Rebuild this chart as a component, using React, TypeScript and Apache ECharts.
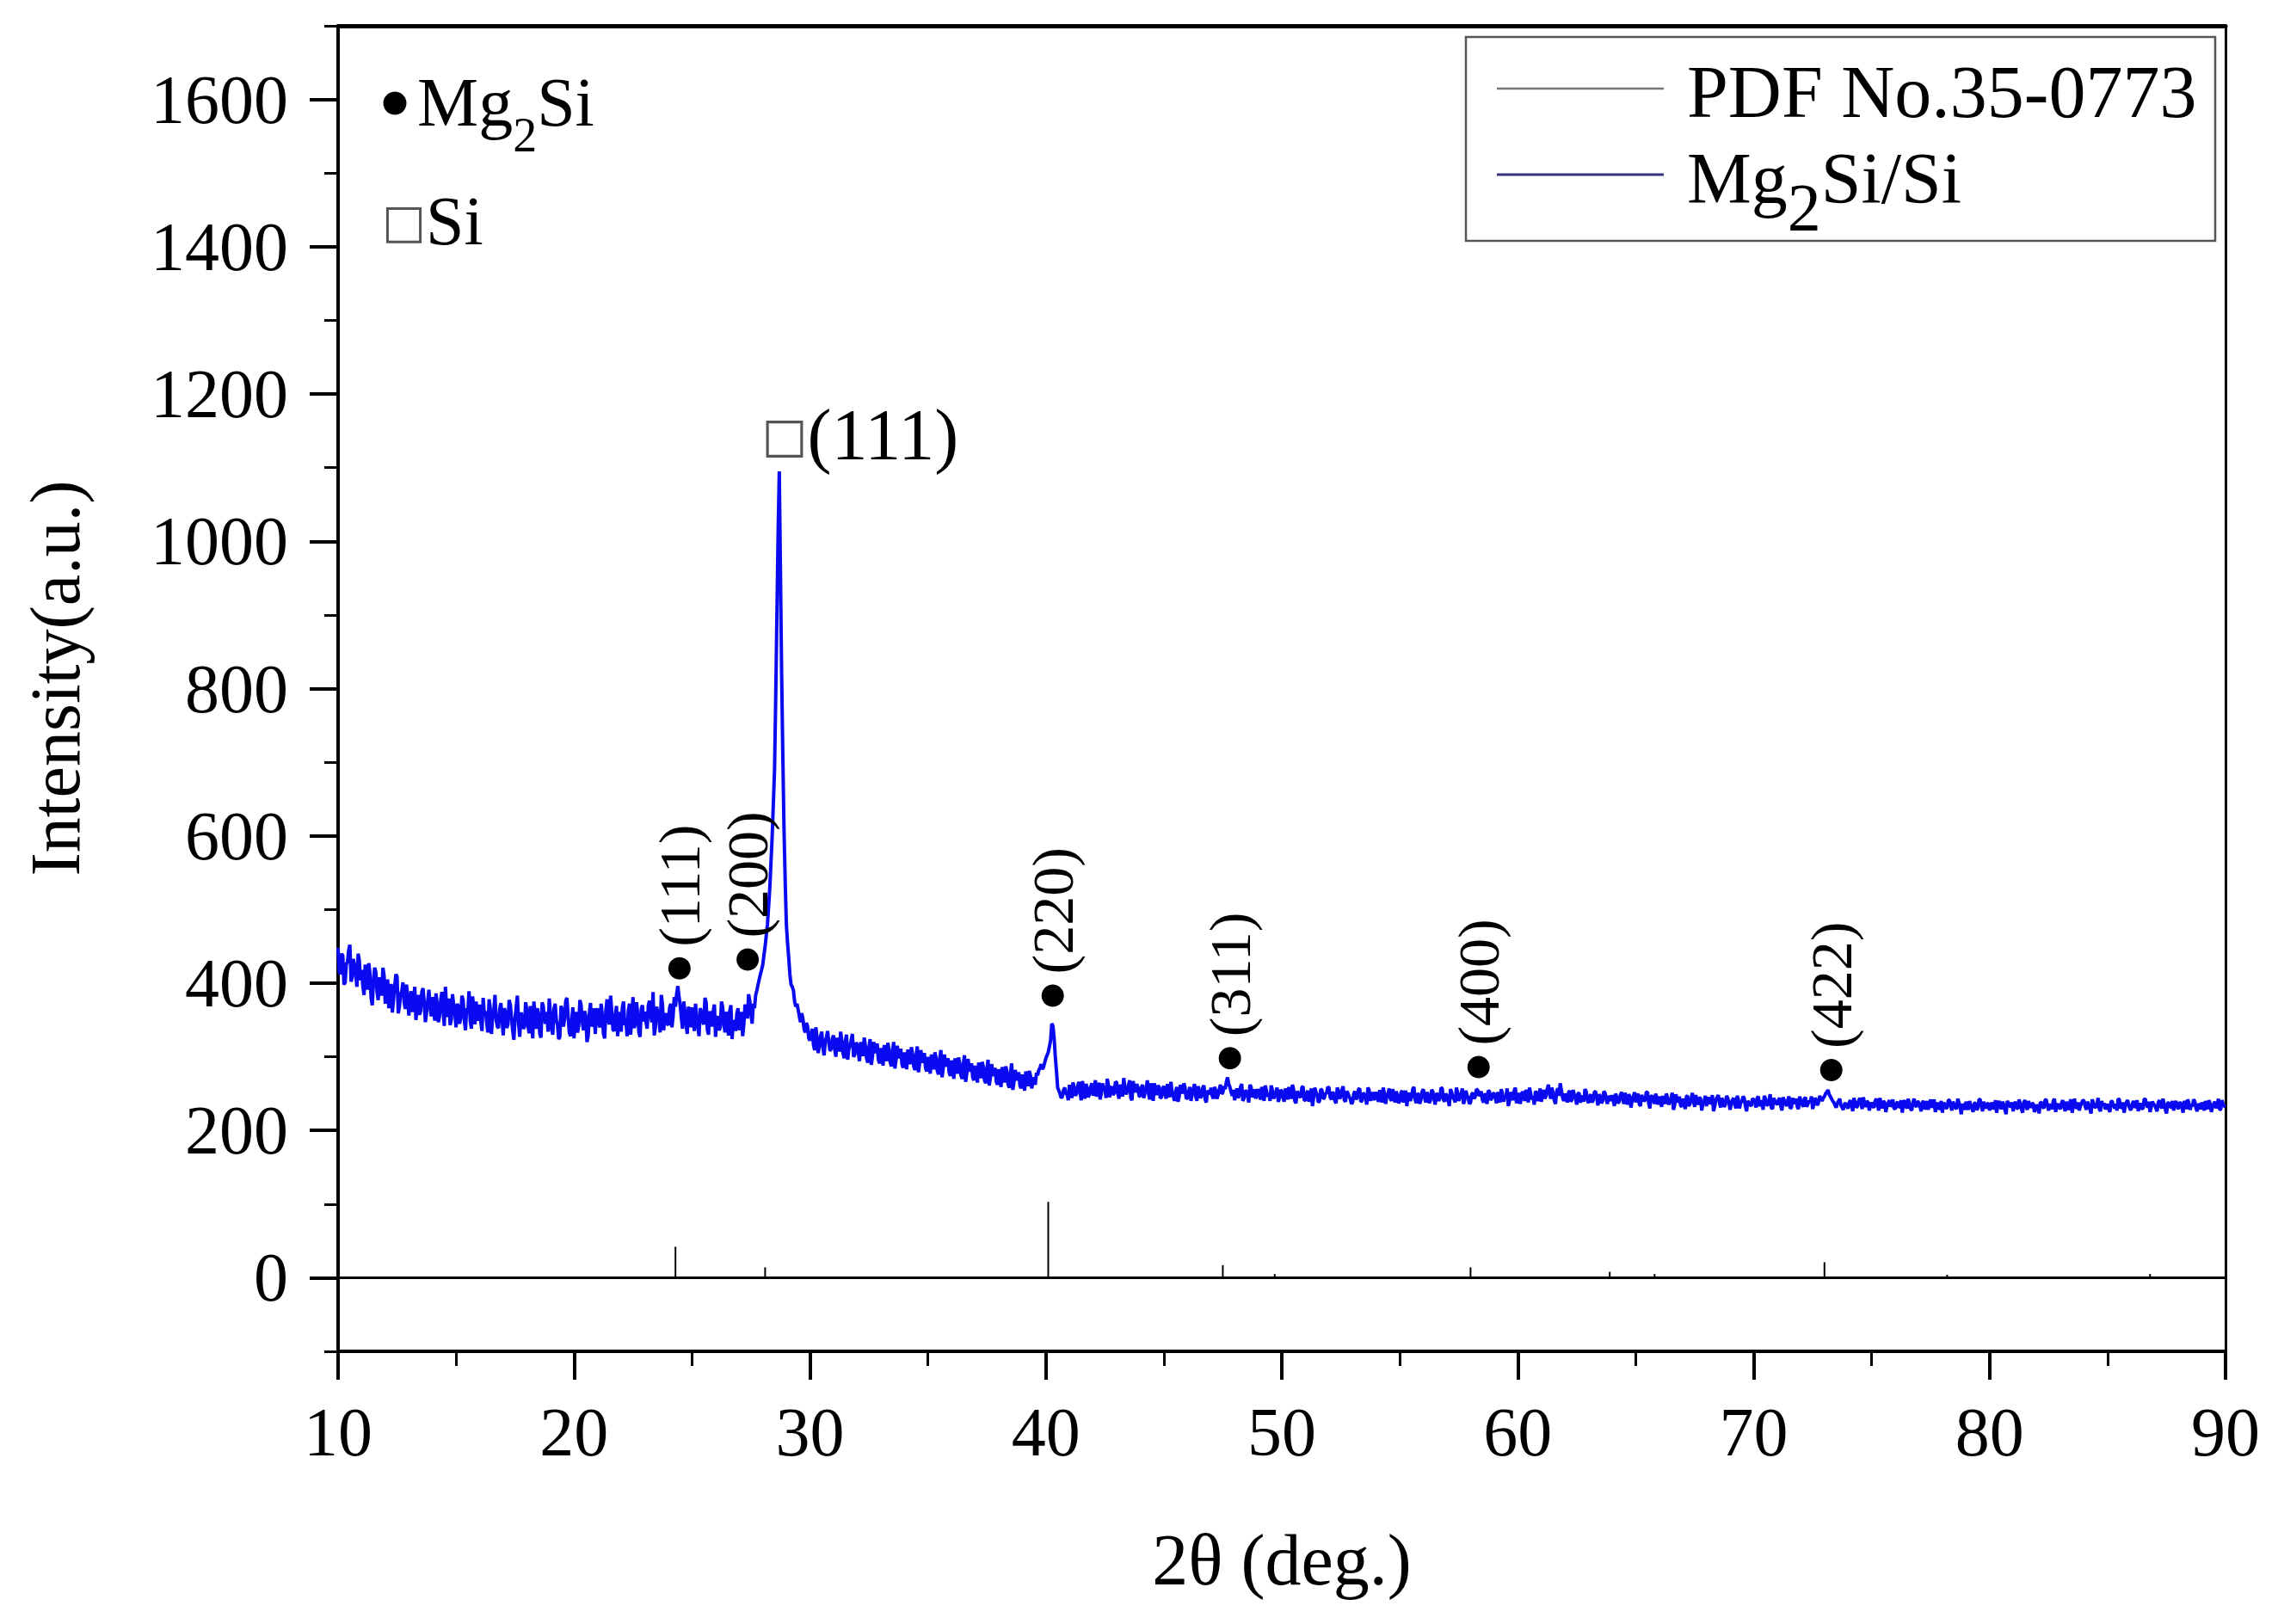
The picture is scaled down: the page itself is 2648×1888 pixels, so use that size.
import React, { useEffect, useRef } from "react";
import * as echarts from "echarts";

// ---- scan: readings at 2θ = 10.0, 10.1, ... 90.0 ----
const scanStart = 10;
const scanStep = 0.1;
const intensity = [
  448, 412, 437, 401, 429, 452, 408, 423, 395, 431,
  418, 384, 409, 427, 380, 402, 415, 377, 398, 421,
  372, 405, 381, 360, 396, 409, 368, 389, 374, 398,
  356, 389, 371, 350, 384, 362, 393, 347, 376, 368,
  381, 349, 372, 355, 388, 342, 366, 379, 351, 370,
  340, 368, 353, 377, 336, 361, 349, 382, 344, 358,
  371, 335, 357, 346, 378, 331, 362, 350, 339, 373,
  329, 360, 344, 371, 336, 352, 383, 327, 355, 341,
  364, 332, 350, 375, 338, 357, 326, 368, 345, 334,
  359, 330, 372, 343, 327, 364, 351, 380, 333, 348,
  325, 361, 342, 370, 336, 355, 328, 373, 347, 331,
  366, 340, 357, 325, 378, 344, 362, 335, 369, 352,
  334, 375, 349, 362, 330, 381, 345, 358, 327, 370,
  361, 338, 376, 347, 329, 368, 352, 384, 336, 359,
  343, 372, 355, 368, 396, 370, 338, 362, 331, 356,
  367, 335, 352, 328, 361, 344, 374, 330, 349, 362,
  327, 355, 340, 368, 333, 350, 362, 324, 347, 358,
  336, 361, 345, 366, 385, 358, 372, 384, 398, 412,
  425, 450, 480, 530, 600, 690, 900, 1095, 820, 610,
  480, 435, 398, 390, 368, 364, 347, 352, 333, 341,
  322, 338, 309, 326, 315, 334, 302, 327, 319, 311,
  329, 300, 318, 334, 305, 321, 296, 315, 331, 303,
  317, 294, 310, 326, 298, 313, 289, 320, 305, 296,
  312, 288, 305, 319, 293, 308, 284, 315, 298, 290,
  306, 283, 299, 313, 287, 302, 279, 309, 292, 285,
  300, 277, 294, 306, 281, 297, 272, 303, 287, 279,
  295, 270, 286, 299, 275, 290, 266, 297, 280, 272,
  288, 265, 281, 293, 268, 284, 261, 290, 274, 266,
  283, 259, 275, 287, 262, 278, 255, 282, 268, 261,
  276, 254, 270, 281, 257, 272, 278, 282, 290, 286,
  298, 306, 322, 342, 300, 258, 250, 246, 258, 249,
  262, 244, 258, 250, 266, 241, 256, 263, 245, 259,
  247, 268, 253, 242, 264, 257, 270, 245, 260, 251,
  265, 243, 258, 271, 249, 261, 244, 267, 252, 259,
  246, 262, 251, 268, 242, 257, 264, 248, 259, 245,
  260, 243, 256, 266, 247, 253, 239, 262, 250, 258,
  244, 259, 249, 263, 240, 255, 247, 261, 238, 252,
  258, 243, 254, 248, 262, 251, 256, 272, 259, 247,
  241, 257, 248, 263, 244, 253, 238, 259, 249, 243,
  256, 242, 252, 261, 246, 240, 255, 247, 258, 244,
  253, 239, 250, 259, 243, 256, 237, 251, 245, 260,
  241, 254, 246, 233, 258, 248, 240, 255, 244, 251,
  258, 242, 250, 237, 254, 246, 260, 239, 251, 243,
  238, 253, 245, 257, 240, 249, 235, 255, 247, 241,
  252, 239, 247, 258, 236, 250, 243, 256, 238, 248,
  240, 254, 244, 233, 251, 246, 259, 237, 249, 242,
  256, 238, 248, 241, 253, 235, 250, 244, 257, 239,
  247, 233, 252, 243, 258, 240, 249, 236, 254, 245,
  238, 251, 246, 255, 249, 242, 250, 236, 253, 244,
  250, 237, 248, 256, 239, 245, 233, 252, 241, 258,
  244, 236, 253, 240, 249, 258, 242, 235, 251, 246,
  239, 255, 247, 262, 243, 250, 236, 257, 264, 245,
  250, 238, 254, 242, 248, 235, 251, 244, 239, 253,
  237, 249, 241, 253, 234, 246, 240, 251, 236, 244,
  248, 233, 245, 239, 252, 236, 243, 249, 231, 246,
  238, 250, 233, 244, 241, 252, 230, 247, 236, 243,
  246, 232, 241, 250, 235, 244, 228, 249, 238, 234,
  243, 229, 247, 236, 251, 232, 240, 245, 227, 239,
  233, 245, 238, 226, 242, 248, 231, 240, 235, 244,
  228, 241, 235, 247, 230, 239, 244, 226, 238, 233,
  242, 231, 246, 236, 228, 243, 234, 249, 229, 240,
  235, 244, 227, 240, 233, 246, 231, 238, 243, 229,
  241, 232, 245, 236, 239, 229, 244, 234, 247, 240,
  246, 252, 249, 243, 238, 231, 240, 234, 228, 237,
  230, 241, 226, 238, 233, 244, 229, 236, 240, 227,
  238, 231, 243, 227, 236, 240, 225, 237, 232, 242,
  229, 239, 233, 224, 241, 230, 236, 227, 243, 232,
  237, 226, 240, 231, 228, 242, 234, 225, 238, 230,
  224, 236, 231, 241, 227, 235, 229, 238, 222, 233,
  239, 228, 234, 225, 237, 230, 242, 226, 233, 236,
  227, 238, 231, 224, 240, 229, 235, 222, 237, 232,
  226, 239, 230, 236, 224, 241, 228, 234, 237, 225,
  235, 223, 238, 230, 242, 227, 233, 240, 225, 236,
  229, 241, 226, 234, 238, 224, 243, 231, 227, 237,
  240, 228, 235, 223, 237, 231, 244, 226, 233, 229,
  236, 225, 239, 230, 227, 242, 232, 224, 238, 234,
  228, 240, 233, 226, 237, 229, 243, 231, 225, 239,
  234, 226, 241, 230, 236, 223, 238, 232, 227, 240,
  229, 237, 224, 235, 242, 228, 233, 239, 226, 234,
  238, 227, 232, 241, 225, 236, 230, 243, 229, 235,
  232,
];

// ---- scan: readings at 2θ = 10.05, 10.15, ... 89.95 ----
const intensityMid = [
  415, 440, 398, 426, 445, 402, 433, 411, 440, 404,
  396, 425, 391, 414, 370, 421, 389, 408, 383, 410,
  391, 366, 399, 378, 412, 359, 385, 401, 365, 382,
  380, 361, 395, 369, 357, 388, 374, 360, 391, 355,
  362, 386, 347, 377, 364, 395, 354, 343, 385, 359,
  372, 345, 383, 350, 366, 389, 338, 367, 375, 349,
  347, 380, 362, 333, 366, 355, 384, 341, 365, 352,
  366, 339, 377, 353, 323, 368, 345, 360, 338, 374,
  341, 369, 325, 358, 366, 331, 374, 349, 361, 379,
  338, 365, 350, 324, 369, 341, 376, 355, 328, 367,
  352, 333, 377, 348, 362, 320, 359, 341, 366, 357,
  345, 372, 331, 363, 350, 383, 337, 356, 328, 361,
  367, 343, 328, 372, 355, 339, 374, 333, 365, 348,
  347, 370, 356, 388, 340, 361, 333, 371, 355, 345,
  366, 340, 381, 385, 382, 353, 375, 344, 368, 340,
  351, 372, 340, 366, 348, 380, 337, 362, 341, 371,
  352, 336, 375, 345, 361, 329, 370, 349, 335, 366,
  350, 328, 371, 352, 376, 345, 366, 390, 405, 418,
  438, 465, 505, 565, 645, 790, 1010, 960, 710, 540,
  455, 412, 395, 375, 372, 355, 359, 338, 346, 325,
  331, 316, 340, 305, 328, 312, 321, 335, 308, 325,
  310, 326, 307, 322, 298, 330, 311, 323, 300, 319,
  306, 320, 301, 315, 292, 324, 300, 311, 318, 291,
  299, 316, 294, 310, 287, 320, 296, 304, 311, 285,
  295, 310, 290, 304, 282, 314, 291, 298, 305, 280,
  288, 303, 283, 298, 276, 309, 285, 291, 298, 274,
  283, 298, 277, 291, 270, 302, 278, 285, 291, 268,
  277, 292, 271, 286, 264, 296, 272, 279, 285, 262,
  271, 286, 265, 280, 258, 291, 266, 273, 279, 257,
  265, 280, 260, 274, 266, 262, 275, 285, 283, 292,
  302, 314, 345, 325, 280, 254, 244, 255, 250, 241,
  253, 265, 247, 260, 251, 267, 243, 258, 250, 264,
  259, 246, 265, 250, 257, 244, 262, 254, 248, 266,
  250, 262, 246, 259, 253, 268, 241, 256, 263, 247,
  258, 244, 256, 250, 264, 240, 253, 261, 244, 257,
  249, 263, 245, 252, 240, 259, 246, 255, 264, 243,
  252, 240, 256, 247, 260, 244, 258, 242, 254, 249,
  247, 259, 243, 256, 250, 260, 266, 263, 252, 255,
  250, 244, 259, 240, 254, 247, 262, 245, 256, 251,
  247, 259, 240, 254, 249, 261, 243, 252, 239, 255,
  245, 257, 242, 249, 262, 240, 253, 246, 258, 241,
  250, 239, 257, 245, 252, 238, 256, 243, 250, 259,
  245, 252, 240, 258, 243, 255, 241, 253, 246, 236,
  250, 242, 256, 239, 251, 245, 258, 240, 252, 247,
  243, 255, 238, 250, 246, 257, 240, 248, 253, 237,
  251, 238, 254, 247, 240, 256, 242, 250, 236, 253,
  245, 252, 237, 255, 243, 249, 240, 258, 242, 250,
  241, 256, 244, 238, 252, 245, 257, 241, 248, 236,
  249, 243, 256, 247, 253, 238, 246, 254, 241, 250,
  244, 252, 238, 250, 246, 257, 240, 248, 254, 237,
  251, 243, 247, 255, 238, 250, 246, 253, 240, 257,
  248, 243, 256, 250, 258, 241, 253, 247, 255, 240,
  245, 251, 239, 255, 244, 250, 238, 247, 256, 242,
  246, 238, 252, 244, 249, 237, 253, 243, 247, 240,
  240, 250, 237, 248, 243, 251, 235, 246, 241, 252,
  245, 236, 248, 240, 252, 237, 246, 242, 250, 235,
  240, 247, 236, 244, 239, 251, 234, 243, 246, 232,
  238, 246, 233, 242, 240, 248, 235, 243, 237, 247,
  240, 236, 248, 233, 245, 238, 244, 232, 247, 239,
  236, 244, 230, 242, 238, 246, 233, 240, 235, 243,
  238, 244, 233, 241, 247, 235, 240, 231, 244, 237,
  241, 233, 245, 236, 242, 230, 244, 237, 232, 246,
  236, 243, 232, 240, 246, 235, 241, 238, 243, 244,
  250, 255, 246, 240, 234, 237, 243, 231, 236, 232,
  238, 233, 244, 231, 240, 236, 245, 232, 238, 234,
  233, 240, 235, 244, 230, 238, 233, 241, 236, 230,
  236, 231, 241, 237, 233, 243, 229, 238, 234, 240,
  232, 238, 229, 240, 236, 231, 242, 233, 229, 240,
  237, 230, 241, 234, 239, 231, 243, 232, 236, 228,
  233, 240, 231, 237, 228, 242, 234, 239, 230, 237,
  234, 229, 241, 236, 232, 239, 228, 240, 233, 238,
  235, 230, 242, 229, 238, 233, 240, 231, 236, 229,
  231, 238, 232, 241, 234, 236, 229, 243, 234, 231,
  237, 233, 239, 228, 242, 235, 231, 238, 233, 241,
  233, 239, 230, 242, 232, 236, 229, 240, 237, 231,
  229, 240, 234, 236, 243, 230, 238, 233, 241, 229,
  236, 231, 241, 233, 230, 242, 235, 239, 232, 236,
  230, 238, 233, 243, 228, 237, 231, 240, 236, 232,
  238, 232, 240, 229, 237, 234, 242, 230, 236, 229,
  233, 240, 229, 236, 232, 239, 235, 228, 241, 233,
];

// ---- reference pattern PDF No.35-0773 (Mg2Si) ----
const pdfTheta = [24.3, 28.1, 40.1, 47.5, 49.7, 58.0, 63.9, 65.8, 73.0, 78.2, 86.8];
const pdfIntensity = [42, 14, 103, 17, 5, 14, 8, 5, 21, 4, 5];

// ---- Mg2Si reflection markers ----
const hklLabels = ["(111)", "(200)", "(220)", "(311)", "(400)", "(422)"];
const hklTheta = [24.47, 27.36, 40.29, 47.8, 58.34, 73.29];
const hklMarkY = [420, 432, 383, 298, 286, 282];

// ---- Si (111) marker ----
const siLabel = "(111)";
const siLabelTheta = [27.94];
const siLabelY = [1144];

// ---- axes ----
const xMin = 10;
const xMax = 90;
const xInterval = 10;
const yMin = -100;
const yMax = 1700;
const yMajorTicks = [0, 200, 400, 600, 800, 1000, 1200, 1400, 1600];
const yMinorTicks = [-100, 100, 300, 500, 700, 900, 1100, 1300, 1500, 1700];

const legendNames = ["PDF No.35-0773", "Mg2Si/Si"];

const FONT = '"Liberation Serif", "Times New Roman", Times, serif';

export default function App() {
  const ref = useRef<HTMLDivElement>(null);

  useEffect(() => {
    const chart = echarts.init(ref.current!, null, { renderer: "svg" });

    const scan: number[][] = [];
    for (let i = 0; i < intensity.length; i++) {
      scan.push([Number((scanStart + i * scanStep).toFixed(2)), intensity[i]]);
      if (i < intensityMid.length) {
        scan.push([Number((scanStart + i * scanStep + scanStep / 2).toFixed(2)), intensityMid[i]]);
      }
    }
    const sticks = pdfTheta.map((t, i) => [t, pdfIntensity[i]]);
    const marks = hklTheta.map((t, i) => [t, hklMarkY[i]]);
    const siMark = siLabelTheta.map((t, i) => [t, siLabelY[i]]);

    const option: any = {
      animation: false,
      backgroundColor: "#ffffff",
      grid: { left: 393, right: 61, top: 30, bottom: 317, containLabel: false },
      xAxis: [
        {
          type: "value",
          min: xMin,
          max: xMax,
          interval: xInterval,
          position: "bottom",
          name: "2θ (deg.)",
          nameLocation: "middle",
          nameGap: 200,
          nameTextStyle: { fontFamily: FONT, fontSize: 84, color: "#000" },
          axisLine: { show: true, onZero: false, lineStyle: { color: "#000", width: 4 } },
          axisTick: { show: true, inside: false, length: 33, lineStyle: { color: "#000", width: 4 } },
          minorTick: { show: true, splitNumber: 2, length: 17, lineStyle: { color: "#000", width: 3 } },
          axisLabel: { fontFamily: FONT, fontSize: 80, color: "#000", margin: 54, formatter: (v: number) => String(v) },
          splitLine: { show: false },
          minorSplitLine: { show: false },
        },
        {
          type: "value",
          min: xMin,
          max: xMax,
          position: "top",
          axisLine: { show: true, onZero: false, lineStyle: { color: "#000", width: 5 } },
          axisTick: { show: false },
          axisLabel: { show: false },
          splitLine: { show: false },
        },
      ],
      yAxis: [
        {
          type: "value",
          min: yMin,
          max: yMax,
          position: "left",
          name: "Intensity(a.u.)",
          nameLocation: "middle",
          nameGap: 288,
          nameTextStyle: { fontFamily: FONT, fontSize: 82, color: "#000", padding: [0, 0, 0, 24] },
          axisLine: { show: true, onZero: false, lineStyle: { color: "#000", width: 4 } },
          axisTick: { show: true, inside: false, length: 33, customValues: yMajorTicks, lineStyle: { color: "#000", width: 4 } },
          axisLabel: {
            customValues: yMajorTicks,
            fontFamily: FONT,
            fontSize: 80,
            color: "#000",
            margin: 58,
            formatter: (v: number) => String(v),
          },
          splitLine: { show: false },
        },
        {
          type: "value",
          min: yMin,
          max: yMax,
          position: "left",
          axisLine: { show: false, onZero: false },
          axisTick: { show: true, inside: false, length: 16, customValues: yMinorTicks, lineStyle: { color: "#000", width: 3 } },
          axisLabel: { show: false },
          splitLine: { show: false },
        },
        {
          type: "value",
          min: yMin,
          max: yMax,
          position: "right",
          axisLine: { show: true, onZero: false, lineStyle: { color: "#000", width: 3 } },
          axisTick: { show: false },
          axisLabel: { show: false },
          splitLine: { show: false },
        },
      ],
      series: [
        {
          name: legendNames[0],
          type: "bar",
          xAxisIndex: 0,
          yAxisIndex: 0,
          data: sticks,
          barWidth: 2,
          itemStyle: { color: "#000" },
          silent: true,
          markLine: {
            silent: true,
            symbol: ["none", "none"],
            label: { show: false },
            lineStyle: { color: "#000", width: 3, type: "solid" },
            data: [{ yAxis: 0 }],
          },
          z: 2,
        },
        {
          name: legendNames[1],
          type: "line",
          xAxisIndex: 0,
          yAxisIndex: 0,
          data: scan,
          symbol: "none",
          showSymbol: false,
          lineStyle: { color: "#0a0af0", width: 4 },
          z: 3,
          silent: true,
        },
        {
          name: "hkl",
          type: "scatter",
          xAxisIndex: 0,
          yAxisIndex: 0,
          data: marks,
          symbol: "circle",
          symbolSize: 26,
          itemStyle: { color: "#000", opacity: 1 },
          silent: true,
          z: 5,
          label: {
            show: true,
            position: "top",
            distance: 12,
            rotate: 90,
            align: "left",
            verticalAlign: "middle",
            fontFamily: FONT,
            fontSize: 68,
            color: "#000",
            opacity: 1,
            formatter: (p: any) => hklLabels[p.dataIndex],
          },
        },
        {
          name: "si",
          type: "scatter",
          xAxisIndex: 0,
          yAxisIndex: 0,
          data: siMark,
          symbol: "circle",
          symbolSize: 1,
          itemStyle: { color: "#fff", opacity: 1 },
          silent: true,
          z: 5,
          label: {
            show: true,
            position: "right",
            distance: 0,
            align: "left",
            verticalAlign: "middle",
            opacity: 1,
            formatter: () => "{sq|□}{a|" + siLabel + "}",
            rich: {
              sq: { fontFamily: '"DejaVu Sans", sans-serif', fontSize: 56, color: "#555" },
              a: { fontFamily: FONT, fontSize: 84, color: "#000" },
            },
          },
        },
      ],
      graphic: [
        // legend box
        {
          type: "rect",
          z: 100,
          shape: { x: 1704, y: 43, width: 871, height: 237 },
          style: { fill: "#fff", stroke: "#555", lineWidth: 2.5 },
        },
        {
          type: "line",
          z: 101,
          shape: { x1: 1740, y1: 103, x2: 1934, y2: 103 },
          style: { stroke: "#777", lineWidth: 2.5 },
        },
        {
          type: "line",
          z: 101,
          shape: { x1: 1740, y1: 203, x2: 1934, y2: 203 },
          style: { stroke: "#33337f", lineWidth: 3 },
        },
        {
          type: "text",
          z: 101,
          x: 1961,
          y: 107,
          style: {
            text: legendNames[0],
            fontFamily: FONT,
            fontSize: 86,
            fill: "#000",
            align: "left",
            verticalAlign: "middle",
          },
        },
        {
          type: "text",
          z: 101,
          x: 1961,
          y: 207,
          style: {
            text: "{a|Mg}{s|2}{a|Si/Si}",
            align: "left",
            verticalAlign: "middle",
            rich: {
              a: { fontFamily: FONT, fontSize: 84, lineHeight: 144, fill: "#000", verticalAlign: "middle" },
              s: { fontFamily: FONT, fontSize: 78, lineHeight: 78, fill: "#000", verticalAlign: "bottom" },
            },
          },
        },
        // phase key, top-left
        {
          type: "circle",
          z: 101,
          shape: { cx: 459, cy: 120, r: 13.5 },
          style: { fill: "#000" },
        },
        {
          type: "text",
          z: 101,
          x: 485,
          y: 119,
          style: {
            text: "{a|Mg}{s|2}{a|Si}",
            align: "left",
            verticalAlign: "middle",
            rich: {
              a: { fontFamily: FONT, fontSize: 80, lineHeight: 131, fill: "#000", verticalAlign: "middle" },
              s: { fontFamily: FONT, fontSize: 56, lineHeight: 56, fill: "#000", verticalAlign: "bottom" },
            },
          },
        },
        {
          type: "text",
          z: 101,
          x: 444,
          y: 257,
          style: {
            text: "{sq|□}{a|Si}",
            align: "left",
            verticalAlign: "middle",
            rich: {
              sq: { fontFamily: '"DejaVu Sans", sans-serif', fontSize: 54, fill: "#555", verticalAlign: "middle" },
              a: { fontFamily: FONT, fontSize: 80, fill: "#000", verticalAlign: "middle" },
            },
          },
        },
      ],
    };

    chart.setOption(option);
    return () => chart.dispose();
  }, []);

  return (
    <div
      ref={ref}
      style={{ position: "fixed", left: 0, top: 0, width: 2648, height: 1888, background: "#fff" }}
    />
  );
}
